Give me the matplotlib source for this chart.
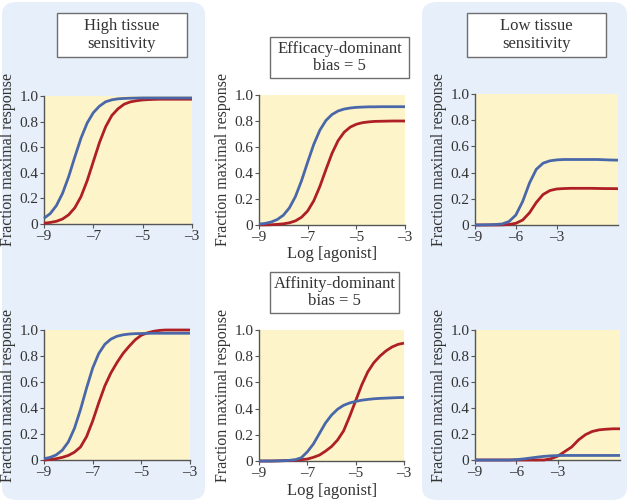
import numpy as np
import matplotlib
matplotlib.use("Agg")
import matplotlib.pyplot as plt
from matplotlib.patches import FancyBboxPatch, Rectangle

# ---- data (log[agonist] vs fraction of max response) ----
x_std = [-9, -8.75, -8.5, -8.25, -8, -7.75, -7.5, -7.25, -7, -6.75, -6.5, -6.25, -6,
         -5.75, -5.5, -5.25, -5, -4.75, -4.5, -4.25, -4, -3.75, -3.5, -3.25, -3]
x_wide = [-9, -8.5, -8, -7.5, -7, -6.5, -6, -5.5, -5, -4.5, -4, -3.5, -3,
          -2.5, -2, -1.5, -1, -0.5, 0, 0.5, 1, 1.5]

# top row: efficacy-dominant bias
hi_eff_blue = [0.045, 0.081, 0.143, 0.239, 0.370, 0.524, 0.671, 0.789, 0.870, 0.921, 0.955, 0.970,
               0.978, 0.981, 0.983, 0.984, 0.985, 0.985, 0.985, 0.985, 0.985, 0.985, 0.985, 0.985, 0.985]
hi_eff_red = [0.006, 0.012, 0.021, 0.039, 0.072, 0.127, 0.214, 0.338, 0.488, 0.637, 0.760, 0.848,
              0.900, 0.936, 0.954, 0.963, 0.969, 0.972, 0.974, 0.975, 0.975, 0.975, 0.975, 0.975, 0.975]
mid_eff_blue = [0.007, 0.012, 0.023, 0.042, 0.075, 0.132, 0.220, 0.342, 0.484, 0.620, 0.729, 0.804,
                0.850, 0.877, 0.892, 0.900, 0.905, 0.907, 0.909, 0.909, 0.910, 0.910, 0.910, 0.910, 0.910]
mid_eff_red = [0.001, 0.001, 0.002, 0.005, 0.009, 0.017, 0.032, 0.060, 0.108, 0.186, 0.296, 0.426,
               0.551, 0.649, 0.714, 0.753, 0.775, 0.787, 0.793, 0.797, 0.798, 0.799, 0.800, 0.800, 0.800]
lo_eff_blue = [0.0, 0.001, 0.002, 0.004, 0.008, 0.027, 0.076, 0.180, 0.320, 0.425, 0.472, 0.490,
               0.497, 0.5, 0.5, 0.5, 0.5, 0.5, 0.5, 0.498, 0.496, 0.495]
lo_eff_red = [0.0, 0.0, 0.0, 0.0, 0.001, 0.004, 0.013, 0.038, 0.093, 0.172, 0.233, 0.263,
              0.275, 0.278, 0.28, 0.28, 0.28, 0.28, 0.279, 0.278, 0.278, 0.277]

# bottom row: affinity-dominant bias
hi_aff_blue = [0.010, 0.020, 0.039, 0.075, 0.139, 0.243, 0.388, 0.554, 0.707, 0.819, 0.890, 0.930,
               0.952, 0.963, 0.969, 0.972, 0.973, 0.974, 0.975, 0.975, 0.975, 0.975, 0.975, 0.975, 0.975]
hi_aff_red = [0.0, 0.004, 0.010, 0.020, 0.035, 0.060, 0.100, 0.180, 0.300, 0.440, 0.570, 0.670,
              0.750, 0.820, 0.875, 0.925, 0.960, 0.978, 0.990, 0.997, 1.0, 1.0, 1.0, 1.0, 1.0]
mid_aff_blue = [0.0, 0.0, 0.0, 0.001, 0.003, 0.005, 0.010, 0.025, 0.070, 0.130, 0.210, 0.290,
                0.350, 0.395, 0.425, 0.443, 0.455, 0.464, 0.470, 0.475, 0.478, 0.480, 0.482, 0.484, 0.485]
mid_aff_red = [0.0, 0.0, 0.0, 0.001, 0.002, 0.004, 0.006, 0.010, 0.015, 0.028, 0.045, 0.075,
               0.110, 0.160, 0.230, 0.340, 0.460, 0.580, 0.680, 0.750, 0.800, 0.840, 0.870, 0.890, 0.900]
lo_aff_blue = [0.0, 0.0, 0.0, 0.0, 0.0, 0.0, 0.003, 0.008, 0.015, 0.022, 0.028, 0.032,
               0.034, 0.035, 0.035, 0.035, 0.035, 0.035, 0.035, 0.035, 0.035, 0.035]
lo_aff_red = [0.0, 0.0, 0.0, 0.0, 0.0, 0.0, 0.0, 0.0, 0.0, 0.0, 0.0, 0.01,
              0.03, 0.065, 0.10, 0.155, 0.195, 0.22, 0.232, 0.237, 0.24, 0.24]

y_ticks = [0, 0.2, 0.4, 0.6, 0.8, 1.0]
y_ticklabels = ["0", "0.2", "0.4", "0.6", "0.8", "1.0"]
x_ticks_std = [-9, -7, -5, -3]
x_ticks_wide = [-9, -6, -3]

BLUE = "#4a67a9"
RED = "#ae1f26"
AX_BG = "#fdf5c9"
PANEL_BG = "#e7effa"
SPINE = "#555555"
TXT = "#333333"

plt.rcParams['font.family'] = ['Liberation Serif', 'DejaVu Serif']

W, H = 629, 504
fig = plt.figure(figsize=(W / 100, H / 100), dpi=100, facecolor='white')


def px_rect(l, t, r, b):
    # pixel box (origin top-left) -> figure fraction [left, bottom, width, height]
    return [l / W, 1 - b / H, (r - l) / W, (b - t) / H]


# light blue column backgrounds (behind everything)
for l, t, r, b in [(2, 2, 205, 500), (422, 2, 627, 500)]:
    x0, y0, w, h = px_rect(l, t, r, b)
    fig.patches.append(FancyBboxPatch((x0, y0), w, h,
                                      boxstyle="round,pad=0,rounding_size=0.025",
                                      transform=fig.transFigure, facecolor=PANEL_BG,
                                      edgecolor='none', zorder=-10))


def panel(box, x, blue, red, xticks, xlim):
    l, t, r, b = box
    ax = fig.add_axes(px_rect(l, t, r, b))
    ax.set_facecolor(AX_BG)
    ax.plot(x, red, color=RED, lw=2.0, solid_capstyle='butt', solid_joinstyle='round',
            clip_on=False, zorder=3)
    ax.plot(x, blue, color=BLUE, lw=2.0, solid_capstyle='butt', solid_joinstyle='round',
            clip_on=False, zorder=3)
    ax.set_xlim(*xlim)
    ax.set_ylim(0, 1.0)
    ax.set_xticks(xticks)
    ax.set_xticklabels([str(v).replace("-", "\u2013") for v in xticks])
    ax.set_yticks(y_ticks)
    ax.set_yticklabels(y_ticklabels)
    for s in ['top', 'right']:
        ax.spines[s].set_visible(False)
    for s in ['left', 'bottom']:
        ax.spines[s].set_color(SPINE)
        ax.spines[s].set_linewidth(1.0)
    ax.tick_params(direction='out', length=3, width=0.8, color=SPINE,
                   labelsize=11, labelcolor=TXT, pad=1)
    ax.set_ylabel("Fraction maximal response", fontsize=11.5, color=TXT)
    ax.yaxis.set_label_coords(-28 / (r - l), 0.5)
    return ax


panel((44, 96, 192, 224), x_std, hi_eff_blue, hi_eff_red, x_ticks_std, (-9, -3))
panel((259, 95, 405, 225), x_std, mid_eff_blue, mid_eff_red, x_ticks_std, (-9, -3))
panel((475, 94, 618, 225), x_wide, lo_eff_blue, lo_eff_red, x_ticks_wide, (-9, 1.5))
panel((44, 330, 190, 460), x_std, hi_aff_blue, hi_aff_red, x_ticks_std, (-9, -3))
panel((259, 330, 404, 461), x_std, mid_aff_blue, mid_aff_red, x_ticks_std, (-9, -3))
panel((475, 330, 620, 460), x_wide, lo_aff_blue, lo_aff_red, x_ticks_wide, (-9, 1.5))

# x axis labels for middle column
fig.text(332 / W, 1 - 254 / H, "Log [agonist]", ha='center', va='center',
         fontsize=12, color=TXT)
fig.text(332 / W, 1 - 491 / H, "Log [agonist]", ha='center', va='center',
         fontsize=12, color=TXT)

# title boxes
titles = [
    ((57, 13, 187, 57), "High tissue\nsensitivity"),
    ((270, 37, 409, 78), "Efficacy-dominant\nbias = 5"),
    ((467, 13, 606, 57), "Low tissue\nsensitivity"),
    ((270, 272, 399, 313), "Affinity-dominant\nbias = 5"),
]
for (l, t, r, b), txt in titles:
    x0, y0, w, h = px_rect(l, t, r, b)
    fig.patches.append(Rectangle((x0, y0), w, h, transform=fig.transFigure,
                                 facecolor='white', edgecolor='#6e6e6e', lw=1.0, zorder=1))
    fig.text(x0 + w / 2, y0 + h / 2, txt, ha='center', va='center', fontsize=12,
             color=TXT, linespacing=1.1, zorder=2)

fig.savefig("out.png", dpi=100, facecolor='white')
